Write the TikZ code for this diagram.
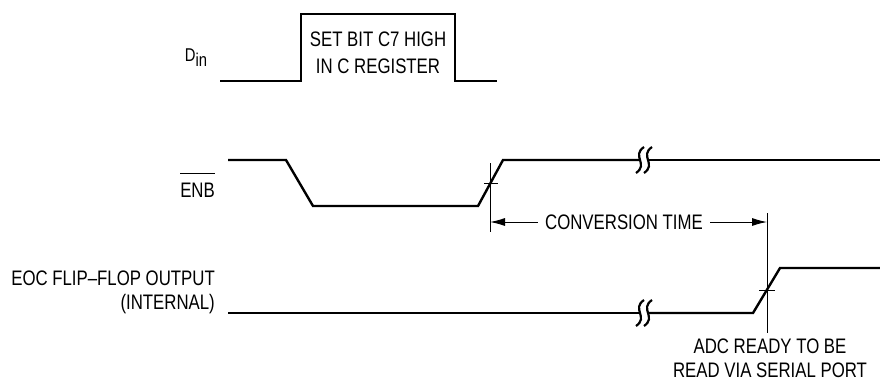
\documentclass[tikz,border=0pt]{standalone}
\usepackage{fontspec}
\setmainfont{Liberation Sans}[FakeStretch=0.8]
\usetikzlibrary{arrows.meta}
\def\brk(#1,#2){\draw[line width=2.2pt] (#1+4,#2-13) .. controls (#1-9,#2-4) and (#1+9,#2+4) .. (#1-4,#2+13);
	\draw[line width=2.2pt] (#1+12,#2-13) .. controls (#1-1,#2-4) and (#1+17,#2+4) .. (#1+4,#2+13);}

\begin{document}
\begin{tikzpicture}[x=1pt,y=-1pt,font=\fontsize{21}{24}\selectfont]
		%%%%% START %%%%%
		\useasboundingbox (0,0) rectangle (880,380);
		
		% D in
		\node[inner sep=0,font=\fontsize{18.5}{20}\selectfont] (din) at (196,58) {D\raisebox{-5pt}{in}};
		\draw[line width=2.4pt] (220,81) -- (301,81) -- (301,14) -- (455,14) -- (455,81) -- (497,81);
		\node[align=center,inner sep=0] (creg) at (378,53) {SET BIT C7 HIGH\\[3pt]IN C REGISTER};
		
		% ENB
		\node[anchor=east,inner sep=0] (enb) at (215,190) {ENB};
		\draw[line width=1.2pt] ([yshift=9pt]enb.north west) -- ([yshift=9pt]enb.north east);
		\draw[line width=2.4pt] (228,160) -- (286,160) -- (313,206) -- (478,206) -- (503,160) -- (640,160);
		\draw[line width=2.4pt] (648,160) -- (880,160);
		\brk(640,160)
		
		% EOC
		\node[anchor=east,align=right,inner sep=0] (eoc) at (215,292) {EOC FLIP--FLOP OUTPUT\\(INTERNAL)};
		\draw[line width=2.4pt] (228,313) -- (640,313);
		\draw[line width=2.4pt] (648,313) -- (753,313) -- (780,268) -- (880,268);
		\brk(640,313)
		
		% markers
		\coordinate (m1) at (490,183);
		\coordinate (m2) at (767,290);
		\draw[line width=0.9pt] (490,163) -- (490,232);
		\draw[line width=0.9pt] (484,183) -- (498,183);
		\draw[line width=0.9pt] (767,213) -- (767,333);
		\draw[line width=0.9pt] (759,290) -- (775,290);
		
		\node[inner sep=7pt] (conv) at (624,222) {CONVERSION TIME};
		\draw[line width=0.9pt,-{Latex[length=15pt,width=8pt]}] (conv.west) -- (conv.west -| m1);
		\draw[line width=0.9pt,-{Latex[length=15pt,width=8pt]}] (conv.east) -- (conv.east -| m2);
		
		\node[align=center,inner sep=0] (adc) at (770,358) {ADC READY TO BE\\READ VIA SERIAL PORT};
		%%%%% END %%%%%
\end{tikzpicture}
\end{document}
